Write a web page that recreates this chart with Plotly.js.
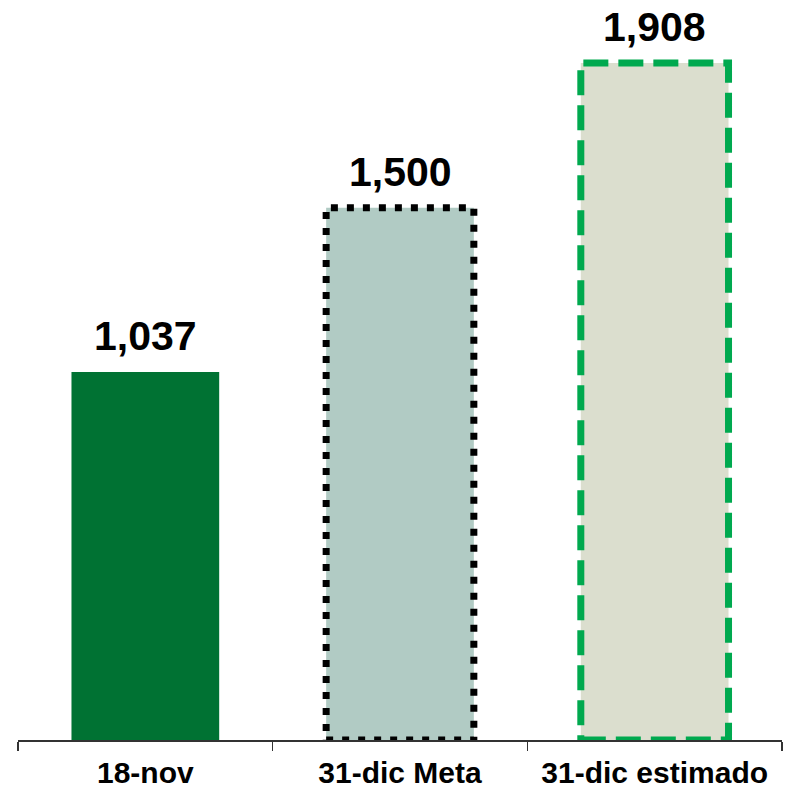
<!DOCTYPE html>
<html>
<head>
<meta charset="utf-8">
<script src="https://cdn.plot.ly/plotly-3.0.1.min.js"></script>
<style>html,body{margin:0;padding:0;background:#fff;}#chart{width:792px;height:790px;}</style>
</head>
<body>
<div id="chart"></div>
<script>
const categories = ["18-nov", "31-dic Meta", "31-dic estimado"];
const values = [1037, 1500, 1908];
const valueLabels = ["1,037", "1,500", "1,908"];

const fillColors = ["#007233", "#B1CBC4", "#DBDECE"];
const borderStyles = [null, {color: "#000000", dash: "7px,9px", width: 7}, {color: "#00A94F", dash: "25px,10px", width: 7}];
const barWidth = 0.58;

const trace = {
  type: "bar",
  x: categories,
  y: values,
  width: barWidth,
  marker: {color: fillColors, line: {width: 0}},
  hoverinfo: "skip"
};

const shapes = [];
values.forEach((v, i) => {
  const b = borderStyles[i];
  if (!b) return;
  shapes.push({
    type: "rect", xref: "x", yref: "y",
    x0: i - barWidth / 2, x1: i + barWidth / 2, y0: 0, y1: v,
    line: {color: b.color, width: b.width, dash: b.dash},
    fillcolor: "rgba(0,0,0,0)", layer: "above"
  });
});

const annotations = values.map((v, i) => ({
  x: categories[i], y: v, xref: "x", yref: "y",
  text: valueLabels[i], showarrow: false,
  yanchor: "bottom", yshift: 11,
  font: {family: "Liberation Sans, Arial, sans-serif", size: 41, color: "#000", weight: "bold"}
}));

const layout = {
  width: 792, height: 790,
  margin: {l: 18, r: 10, t: 10, b: 50},
  paper_bgcolor: "#ffffff", plot_bgcolor: "#ffffff",
  showlegend: false,
  xaxis: {
    type: "category",
    showline: true, linecolor: "#333333", linewidth: 1.5,
    ticks: "outside", tickson: "boundaries", ticklen: 9, tickwidth: 1.5, tickcolor: "#333333",
    showgrid: false, zeroline: false,
    tickfont: {family: "Liberation Sans, Arial, sans-serif", size: 30, color: "#000", weight: "bold"},
    ticklabelstandoff: 5,
    fixedrange: true
  },
  yaxis: {range: [0, 2057], visible: false, showgrid: false, zeroline: false, fixedrange: true},
  shapes: shapes,
  annotations: annotations
};

Plotly.newPlot("chart", [trace], layout, {displayModeBar: false, staticPlot: true});
</script>
</body>
</html>
